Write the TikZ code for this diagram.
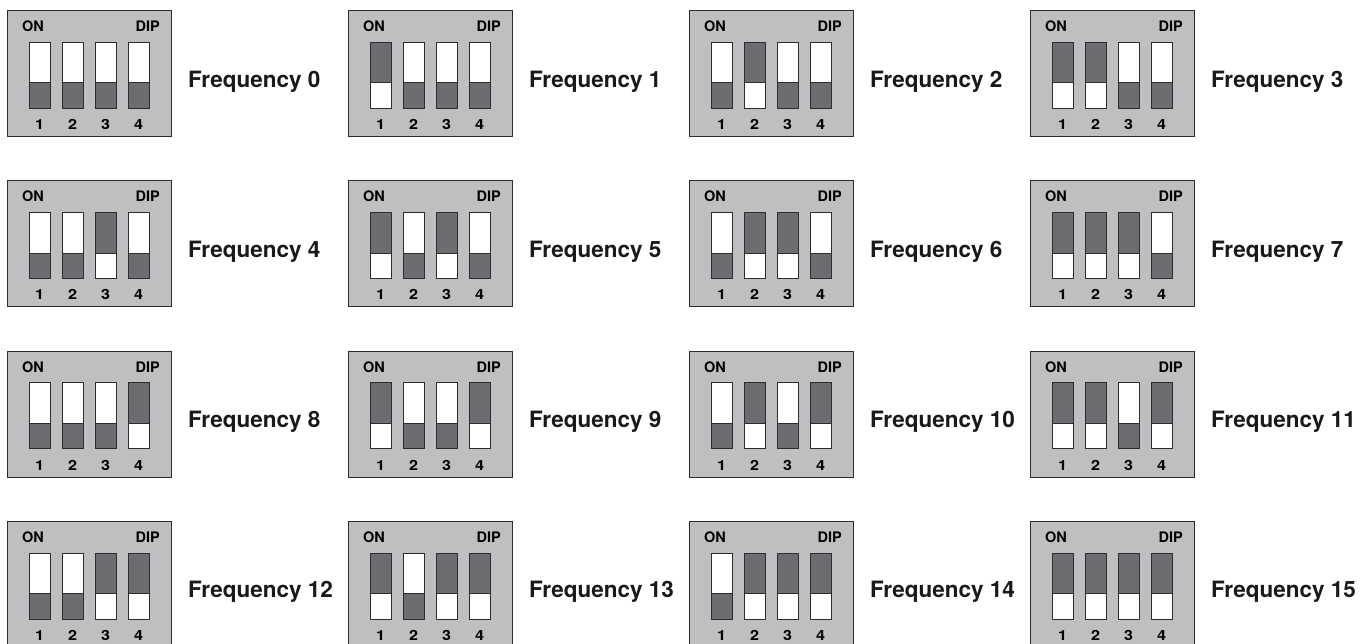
\documentclass[tikz,border=0pt]{standalone}
\usepackage{fontspec}
\setmainfont{TeX Gyre Heros}
\newfontfamily\widenum[FakeStretch=1.15]{TeX Gyre Heros}
\definecolor{boxgray}{RGB}{190,191,193}
\definecolor{swdark}{RGB}{108,109,112}
\definecolor{edgecol}{RGB}{45,45,45}
\tikzset{
  dipbox/.style={draw=edgecol, line width=1pt, fill=boxgray, minimum width=164pt, minimum height=126pt, inner sep=0pt, anchor=north west},
  switchbase/.style={draw=edgecol, line width=0.9pt, minimum width=20.5pt, minimum height=66pt, inner sep=0pt, anchor=north west},
  sw0/.style={switchbase, fill=white, path picture={\fill[swdark] (path picture bounding box.south west) rectangle ([yshift=25.5pt]path picture bounding box.south east); \draw[edgecol, line width=0.7pt] ([yshift=25.5pt]path picture bounding box.south west) -- ([yshift=25.5pt]path picture bounding box.south east);}},
  sw1/.style={switchbase, fill=swdark, path picture={\fill[white] (path picture bounding box.south west) rectangle ([yshift=25.5pt]path picture bounding box.south east); \draw[edgecol, line width=0.7pt] ([yshift=25.5pt]path picture bounding box.south west) -- ([yshift=25.5pt]path picture bounding box.south east);}},
  smalllbl/.style={font=\fontsize{14.5}{16}\selectfont\bfseries, inner sep=0pt, text=black},
  numlbl/.style={font=\widenum\fontsize{14}{16}\selectfont\bfseries, inner sep=0pt, anchor=base, text=black},
  freqlbl/.style={font=\fontsize{22.5}{27}\selectfont\bfseries, inner sep=0pt, anchor=base west, text=black!90}
}
\begin{document}
\begin{tikzpicture}[x=1pt, y=-1pt]
\useasboundingbox (0,0) rectangle (1360,643);
\foreach \r in {0,...,3}{
  \foreach \c in {0,...,3}{
    \pgfmathtruncatemacro{\n}{4*\r+\c}
    \pgfmathsetmacro{\bx}{7+341*\c}
    \pgfmathsetmacro{\by}{10+170.33*\r}
    \node[dipbox] (box\n) at (\bx,\by) {};
    \node[smalllbl, anchor=base west] (on\n) at (\bx+15,\by+21.5) {ON};
    \node[smalllbl, anchor=base east] (dip\n) at (\bx+153,\by+21.5) {DIP};
    \foreach \i in {1,...,4}{
      \pgfmathtruncatemacro{\bit}{mod(floor(\n/(2^(\i-1))),2)}
      \node[sw\bit] (sw\n-\i) at (\bx+22.3+33*\i-33,\by+31.7) {};
      \node[numlbl] (num\n-\i) at (\bx+32.55+33*\i-33,\by+119.5) {\i};
    }
    \node[freqlbl] (freq\n) at (\bx+181,\by+77) {Frequency \n};
  }
}
\end{tikzpicture}
\end{document}
